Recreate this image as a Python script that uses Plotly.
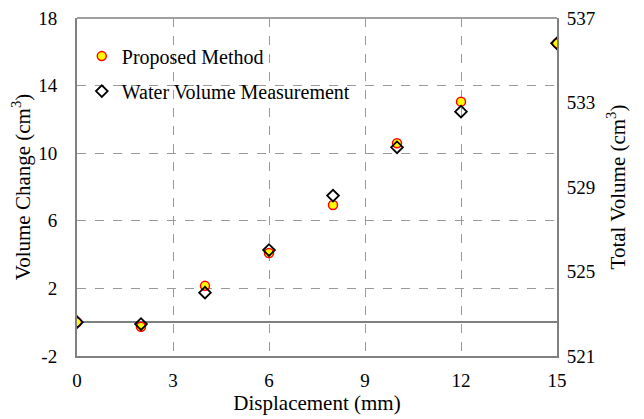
import plotly.graph_objects as go

displacement = [0, 2, 4, 6, 8, 10, 12, 15]
proposed = [0.0, -0.27, 2.15, 4.09, 6.93, 10.59, 13.05, 16.5]
water = [0.0, -0.11, 1.75, 4.27, 7.49, 10.35, 12.46, 16.5]

x_ticks = [0, 3, 6, 9, 12, 15]
y_ticks = [-2, 2, 6, 10, 14, 18]
y2_ticks = [521, 525, 529, 533, 537]

FONT = "Liberation Serif"
GRID = "#9a9a9a"
AXIS = "#808080"

fig = go.Figure()
fig.add_trace(go.Scatter(
    x=displacement, y=proposed, mode="markers", name="Proposed Method",
    legendgroup="a",
    marker=dict(symbol="circle", size=9, color="#ffff00",
                line=dict(color="#ff0000", width=1.5)),
))
fig.add_trace(go.Scatter(
    x=displacement, y=water, mode="markers", name="Water Volume Measurement",
    legendgroup="b",
    marker=dict(symbol="diamond-open", size=9, color="#000000",
                line=dict(color="#000000", width=1.8)),
))
# empty trace so the right-hand axis is drawn
fig.add_trace(go.Scatter(x=[], y=[], yaxis="y2", showlegend=False, hoverinfo="skip"))

# top frame edge
fig.add_shape(type="line", xref="paper", yref="paper", x0=0, x1=1, y0=1, y1=1,
              line=dict(color="#a0a0a0", width=2))

fig.update_layout(
    width=636, height=411,
    margin=dict(l=69, r=87, t=10, b=63, autoexpand=False),
    paper_bgcolor="white", plot_bgcolor="white",
    font=dict(family=FONT, size=19, color="black"),
    showlegend=True,
    legend=dict(x=0.01, y=0.945, xanchor="left", yanchor="top",
                bgcolor="rgba(0,0,0,0)", font=dict(family=FONT, size=20),
                itemwidth=30, tracegroupgap=6, traceorder="grouped"),
    xaxis=dict(range=[0, 15], tickvals=x_ticks, ticktext=[str(v) for v in x_ticks],
               showgrid=True, gridcolor=GRID, griddash="dash", gridwidth=1,
               showline=True, linecolor=AXIS, linewidth=2, zeroline=False,
               ticks="", tickfont=dict(size=19), ticklabelstandoff=6,
               ticklabeloverflow="allow", automargin=False,
               title=dict(text="Displacement (mm)", font=dict(size=21), standoff=0)),
    yaxis=dict(range=[-2, 18.0001], tickvals=y_ticks, ticktext=[str(v) for v in y_ticks],
               showgrid=True, gridcolor=GRID, griddash="dash", gridwidth=1,
               showline=True, linecolor=AXIS, linewidth=2,
               zeroline=True, zerolinecolor=AXIS, zerolinewidth=2,
               ticks="", tickfont=dict(size=19), ticklabelstandoff=14,
               ticklabeloverflow="allow", automargin=False,
               title=dict(text="Volume Change (cm<sup>3</sup>)", font=dict(size=21), standoff=2)),
    yaxis2=dict(range=[521, 537.0001], tickvals=y2_ticks, ticktext=[str(v) for v in y2_ticks],
                overlaying="y", side="right", showgrid=False, zeroline=False,
                showline=True, linecolor=AXIS, linewidth=2, ticks="",
                tickfont=dict(size=19), ticklabelstandoff=4,
                ticklabeloverflow="allow", automargin=False,
                title=dict(text="Total Volume (cm<sup>3</sup>)", font=dict(size=21), standoff=16)),
)

fig.write_html("out.html")
